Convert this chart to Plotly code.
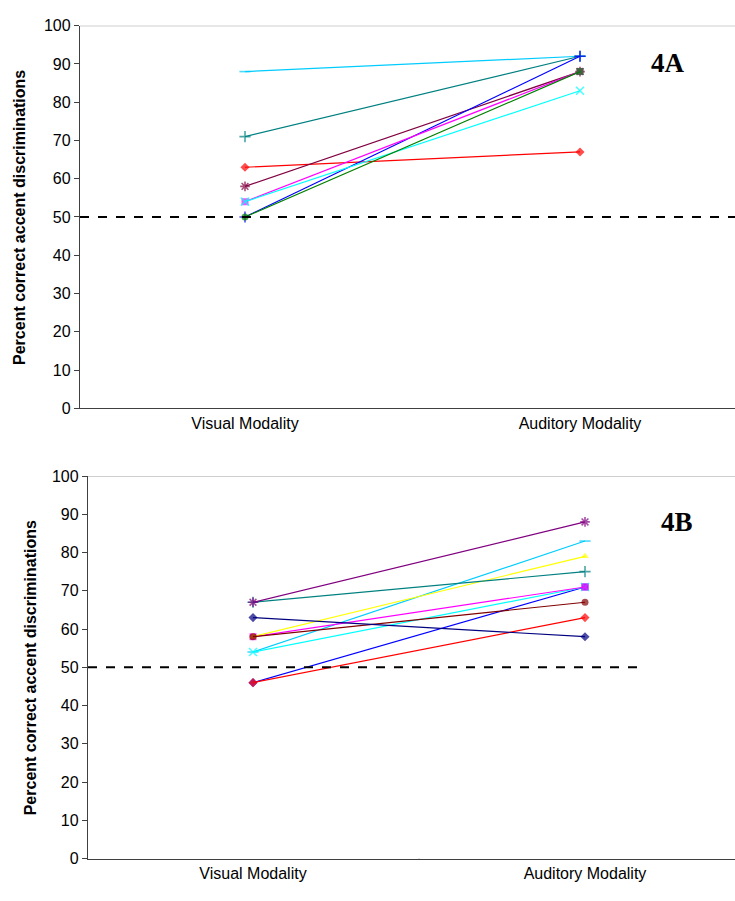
import plotly.graph_objects as go

categories = ["Visual Modality", "Auditory Modality"]

# Panel 4A series: (visual, auditory)
a_colors = ["#00CCFF", "#008080", "#FF0000", "#800040", "#0000FF", "#FF00FF", "#00FFFF", "#008000"]
a_visual = [88, 71, 63, 58, 50, 54, 54, 50]
a_auditory = [92, 92, 67, 88, 92, 88, 83, 88]
a_symbols = [["line-ew", "line-ew"], ["cross-thin", "cross-thin"], ["diamond", "diamond"],
             ["asterisk", "asterisk"], ["cross-thin", "cross-thin"], ["square", "square"],
             ["x-thin", "x-thin"], ["circle", "square"]]

# Panel 4B series
b_colors = ["#0000FF", "#FF0000", "#00CCFF", "#00FFFF", "#FF00FF", "#FFFF00", "#800000", "#000080", "#008080", "#800080"]
b_visual = [46, 46, 54, 54, 58, 58, 58, 63, 67, 67]
b_auditory = [71, 63, 83, 71, 71, 79, 67, 58, 75, 88]
b_symbols = [["diamond", "square"], ["diamond", "diamond"], ["line-ew", "line-ew"], ["x-thin", "x-thin"],
             ["square", "square"], ["triangle-up", "triangle-up"], ["circle", "circle"],
             ["diamond", "diamond"], ["cross-thin", "cross-thin"], ["asterisk", "asterisk"]]

chance_level = 50
y_ticks = list(range(0, 101, 10))

W, H = 735, 901
fig = go.Figure()

xs = [0, 1]
OPEN = ("line-ew", "cross-thin", "asterisk", "x-thin")


def add_series(colors, vis, aud, syms, xa, ya):
    for c, v, a, s in zip(colors, vis, aud, syms):
        sizes = [8 if k in OPEN else 7 for k in s]
        widths = [1.6 if k in OPEN else 0 for k in s]
        fig.add_trace(go.Scatter(
            x=xs, y=[v, a], mode="lines+markers",
            line=dict(color=c, width=1.2),
            marker=dict(symbol=s, size=sizes, color=c,
                        line=dict(color=c, width=widths)),
            xaxis=xa, yaxis=ya, showlegend=False, hoverinfo="skip"))


add_series(a_colors, a_visual, a_auditory, a_symbols, "x", "y")
add_series(b_colors, b_visual, b_auditory, b_symbols, "x2", "y2")

# geometry (pixels)
top_y100, top_y0 = 18, 408
bot_y100, bot_y0 = 477, 867
top_left, bot_left = 80, 88
top_vis, top_aud = 245, 580
bot_vis, bot_aud = 253, 585


def xrange_for(left, vis, aud, right=W):
    scale = aud - vis
    return [-(vis - left) / scale, 1 + (right - aud) / scale]


tick_font = dict(family="Liberation Sans, Arial", size=16, color="black")
axis_common = dict(showgrid=False, zeroline=False, showline=True, linecolor="#404040", linewidth=1.3)

fig.update_layout(
    width=W, height=H, margin=dict(l=0, r=0, t=0, b=0),
    paper_bgcolor="white", plot_bgcolor="white",
    xaxis=dict(domain=[top_left / W, 1], range=xrange_for(top_left, top_vis, top_aud),
               tickvals=xs, ticktext=categories, ticks="", tickfont=tick_font,
               anchor="y", **axis_common),
    yaxis=dict(domain=[1 - top_y0 / H, 1 - top_y100 / H], range=[0, 100],
               tickvals=y_ticks, ticks="outside", ticklen=5, tickcolor="#404040",
               tickfont=tick_font, anchor="x", **axis_common),
    xaxis2=dict(domain=[bot_left / W, 1], range=xrange_for(bot_left, bot_vis, bot_aud),
                tickvals=xs, ticktext=categories, ticks="", tickfont=tick_font,
                anchor="y2", **axis_common),
    yaxis2=dict(domain=[1 - bot_y0 / H, 1 - bot_y100 / H], range=[0, 100],
                tickvals=y_ticks, ticks="outside", ticklen=5, tickcolor="#404040",
                tickfont=tick_font, anchor="x2", **axis_common),
)

shapes = []
for xa, ya, x_end in (("x", "y", W), ("x2", "y2", 640)):
    left = top_left if xa == "x" else bot_left
    # dashed chance line
    shapes.append(dict(type="line", xref="paper", yref=ya, x0=left / W, x1=x_end / W,
                       y0=chance_level, y1=chance_level,
                       line=dict(color="black", width=2, dash="dash")))
    # top border line at 100
    shapes.append(dict(type="line", xref=f"{xa} domain", yref=ya, x0=0, x1=1, y0=100, y1=100,
                       line=dict(color="#A0A0A0", width=1.2)))
    # category separator tick
    shapes.append(dict(type="line", xref=xa, yref=ya, x0=0.5, x1=0.5, y0=0, y1=-6,
                       ysizemode="pixel", yanchor=0, line=dict(color="#404040", width=1)))
fig.update_layout(shapes=shapes)

title_font = dict(family="Liberation Sans, Arial", size=16, color="black")
annotations = [
    dict(text="<b>Percent correct accent discriminations</b>", textangle=-90,
         x=20 / W, y=1 - 214 / H, xref="paper", yref="paper", showarrow=False, font=title_font,
         xanchor="center", yanchor="middle"),
    dict(text="<b>Percent correct accent discriminations</b>", textangle=-90,
         x=30 / W, y=1 - 673 / H, xref="paper", yref="paper", showarrow=False, font=title_font,
         xanchor="center", yanchor="middle"),
    dict(text="<b>4A</b>", x=668 / W, y=1 - 56 / H, xref="paper", yref="paper", showarrow=False,
         font=dict(family="Liberation Serif, Times New Roman", size=27, color="black"),
         xanchor="center", yanchor="middle"),
    dict(text="<b>4B</b>", x=677 / W, y=1 - 524 / H, xref="paper", yref="paper", showarrow=False,
         font=dict(family="Liberation Serif, Times New Roman", size=27, color="black"),
         xanchor="center", yanchor="middle"),
]
fig.update_layout(annotations=annotations)

fig.write_html("out.html")
